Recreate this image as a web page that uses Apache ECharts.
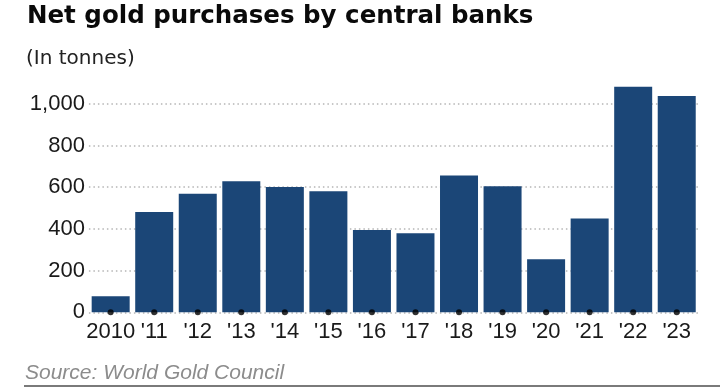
<!DOCTYPE html>
<html>
<head>
<meta charset="utf-8">
<script src="https://cdn.jsdelivr.net/npm/echarts@6/dist/echarts.min.js"></script>
<style>
html,body{margin:0;padding:0;background:#fff;}
#chart{width:720px;height:392px;}
</style>
</head>
<body>
<div id="chart"></div>
<script>
var categories = ['2010', "'11", "'12", "'13", "'14", "'15", "'16", "'17", "'18", "'19", "'20", "'21", "'22", "'23"];
var purchases = [77, 481, 569, 629, 601, 580, 395, 379, 656, 605, 255, 450, 1082, 1037];
var yTicks = [0, 200, 400, 600, 800, 1000];
var titleText = 'Net gold purchases by central banks';
var subtitleText = '(In tonnes)';
var sourceText = 'Source: World Gold Council';

var tickDots = categories.map(function () { return 0; });

var chart = echarts.init(document.getElementById('chart'), null, {renderer: 'canvas'});
chart.setOption({
  animation: false,
  backgroundColor: '#ffffff',
  title: [
    {text: titleText, left: 27, top: 4, padding: 0,
     textStyle: {fontFamily: 'DejaVu Sans', fontWeight: 'bold', fontSize: 24.5, color: '#0a0a0a'}},
    {text: subtitleText, left: 26, top: 49, padding: 0,
     textStyle: {fontFamily: 'DejaVu Sans', fontWeight: 'normal', fontSize: 20, color: '#222'}},
    {text: sourceText, left: 25, top: 363, padding: 0,
     textStyle: {fontFamily: 'Liberation Sans', fontStyle: 'italic', fontWeight: 'normal', fontSize: 21, color: '#8c8c8c'}}
  ],
  grid: {left: 88.9, right: 21.5, top: 103.8, bottom: 79.7, containLabel: false},
  xAxis: {
    type: 'category',
    data: categories,
    axisLine: {show: false},
    axisTick: {show: false},
    axisLabel: {fontFamily: 'Liberation Sans', fontSize: 22, color: '#1a1a1a', margin: 9, interval: 0}
  },
  yAxis: {
    type: 'value',
    min: yTicks[0],
    max: yTicks[yTicks.length - 1],
    interval: 200,
    axisLine: {show: false},
    axisTick: {show: false},
    axisLabel: {
      fontFamily: 'Liberation Sans', fontSize: 22, color: '#1a1a1a', margin: 4,
      formatter: function (v) { return v.toLocaleString('en-US'); }
    },
    splitLine: {show: true, lineStyle: {color: '#b5b5b5', width: 1.5, type: [1.5, 3]}}
  },
  series: [
    {
      type: 'bar',
      data: purchases,
      clip: false,
      barWidth: 38,
      itemStyle: {color: '#1b4677'},
      z: 2
    },
    {
      type: 'scatter',
      data: tickDots,
      symbol: 'circle',
      symbolSize: 6,
      itemStyle: {color: '#000'},
      clip: false,
      z: 5
    }
  ],
  graphic: [
    {type: 'line', shape: {x1: 24, y1: 386, x2: 720, y2: 386},
     style: {stroke: '#7a7a7a', lineWidth: 2}, z: 10}
  ]
});
</script>
</body>
</html>
